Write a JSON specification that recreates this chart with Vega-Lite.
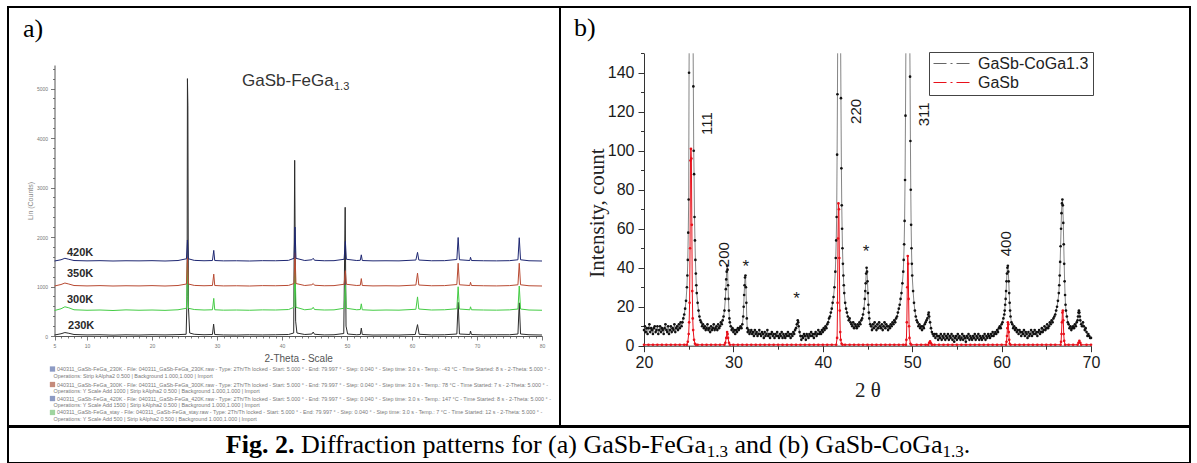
{
"$schema": "https://vega.github.io/schema/vega-lite/v6.json",
"background": "white",
"padding": {"left": 7, "top": 6, "right": 0, "bottom": 0},
"config": {"view": {"stroke": "#000000", "strokeWidth": 2}, "font": "Liberation Sans"},
"spacing": -1,
"resolve": {"scale": {"x": "independent", "y": "independent", "color": "independent", "fill": "independent"}},
"datasets": {
"a": [
{"k":"230K","t":5,"c":20},{"k":"230K","t":6,"c":45},{"k":"230K","t":6.6,"c":70},{"k":"230K","t":7.2,"c":55},{"k":"230K","t":8,"c":30},{"k":"230K","t":10,"c":22},{"k":"230K","t":12,"c":25},{"k":"230K","t":14,"c":18},{"k":"230K","t":16,"c":24},{"k":"230K","t":18,"c":20},{"k":"230K","t":20,"c":26},{"k":"230K","t":22,"c":22},{"k":"230K","t":24,"c":28},{"k":"230K","t":25.25,"c":35},{"k":"230K","t":25.4,"c":800},{"k":"230K","t":25.45,"c":5200},{"k":"230K","t":25.52,"c":4650},{"k":"230K","t":25.6,"c":600},{"k":"230K","t":25.8,"c":60},{"k":"230K","t":26.5,"c":35},{"k":"230K","t":28,"c":25},{"k":"230K","t":29.3,"c":30},{"k":"230K","t":29.48,"c":240},{"k":"230K","t":29.65,"c":30},{"k":"230K","t":31,"c":22},{"k":"230K","t":33,"c":20},{"k":"230K","t":35,"c":25},{"k":"230K","t":37,"c":22},{"k":"230K","t":39,"c":25},{"k":"230K","t":41,"c":30},{"k":"230K","t":41.8,"c":60},{"k":"230K","t":41.95,"c":3550},{"k":"230K","t":42.1,"c":300},{"k":"230K","t":42.3,"c":60},{"k":"230K","t":43.5,"c":30},{"k":"230K","t":44.6,"c":40},{"k":"230K","t":44.8,"c":80},{"k":"230K","t":45,"c":35},{"k":"230K","t":46.5,"c":22},{"k":"230K","t":48,"c":25},{"k":"230K","t":49.5,"c":50},{"k":"230K","t":49.72,"c":2600},{"k":"230K","t":49.85,"c":200},{"k":"230K","t":50.1,"c":40},{"k":"230K","t":51.5,"c":25},{"k":"230K","t":52.05,"c":30},{"k":"230K","t":52.2,"c":160},{"k":"230K","t":52.35,"c":30},{"k":"230K","t":54,"c":20},{"k":"230K","t":56,"c":22},{"k":"230K","t":58,"c":20},{"k":"230K","t":60.5,"c":30},{"k":"230K","t":60.85,"c":230},{"k":"230K","t":61.1,"c":35},{"k":"230K","t":63,"c":22},{"k":"230K","t":65,"c":25},{"k":"230K","t":66.9,"c":40},{"k":"230K","t":67.1,"c":680},{"k":"230K","t":67.3,"c":40},{"k":"230K","t":68.9,"c":30},{"k":"230K","t":69,"c":100},{"k":"230K","t":69.15,"c":30},{"k":"230K","t":71,"c":22},{"k":"230K","t":73,"c":25},{"k":"230K","t":75,"c":25},{"k":"230K","t":76.3,"c":40},{"k":"230K","t":76.5,"c":670},{"k":"230K","t":76.7,"c":40},{"k":"230K","t":78,"c":25},{"k":"230K","t":80,"c":20},
{"k":"300K","t":5,"c":515},{"k":"300K","t":6,"c":550},{"k":"300K","t":6.6,"c":590},{"k":"300K","t":7.2,"c":570},{"k":"300K","t":8,"c":530},{"k":"300K","t":10,"c":520},{"k":"300K","t":12,"c":525},{"k":"300K","t":14,"c":515},{"k":"300K","t":16,"c":528},{"k":"300K","t":18,"c":520},{"k":"300K","t":20,"c":525},{"k":"300K","t":22,"c":518},{"k":"300K","t":24,"c":530},{"k":"300K","t":25.3,"c":560},{"k":"300K","t":25.45,"c":1480},{"k":"300K","t":25.6,"c":560},{"k":"300K","t":26.5,"c":535},{"k":"300K","t":28,"c":525},{"k":"300K","t":29.3,"c":530},{"k":"300K","t":29.5,"c":760},{"k":"300K","t":29.65,"c":530},{"k":"300K","t":31,"c":522},{"k":"300K","t":33,"c":525},{"k":"300K","t":35,"c":520},{"k":"300K","t":37,"c":528},{"k":"300K","t":39,"c":525},{"k":"300K","t":41,"c":535},{"k":"300K","t":41.85,"c":580},{"k":"300K","t":42,"c":1420},{"k":"300K","t":42.15,"c":580},{"k":"300K","t":43.5,"c":530},{"k":"300K","t":44.6,"c":545},{"k":"300K","t":44.8,"c":580},{"k":"300K","t":45,"c":535},{"k":"300K","t":46.5,"c":525},{"k":"300K","t":48,"c":528},{"k":"300K","t":49.55,"c":560},{"k":"300K","t":49.75,"c":1030},{"k":"300K","t":49.9,"c":560},{"k":"300K","t":51.5,"c":530},{"k":"300K","t":52.05,"c":535},{"k":"300K","t":52.2,"c":650},{"k":"300K","t":52.35,"c":530},{"k":"300K","t":54,"c":520},{"k":"300K","t":56,"c":525},{"k":"300K","t":58,"c":522},{"k":"300K","t":60.6,"c":540},{"k":"300K","t":60.85,"c":790},{"k":"300K","t":61.05,"c":545},{"k":"300K","t":63,"c":525},{"k":"300K","t":65,"c":530},{"k":"300K","t":66.9,"c":550},{"k":"300K","t":67.1,"c":995},{"k":"300K","t":67.3,"c":545},{"k":"300K","t":68.9,"c":530},{"k":"300K","t":69,"c":590},{"k":"300K","t":69.15,"c":530},{"k":"300K","t":71,"c":525},{"k":"300K","t":73,"c":522},{"k":"300K","t":75,"c":528},{"k":"300K","t":76.3,"c":545},{"k":"300K","t":76.5,"c":1010},{"k":"300K","t":76.7,"c":545},{"k":"300K","t":78,"c":525},{"k":"300K","t":80,"c":520},
{"k":"350K","t":5,"c":1010},{"k":"350K","t":6,"c":1040},{"k":"350K","t":6.6,"c":1070},{"k":"350K","t":7.2,"c":1050},{"k":"350K","t":8,"c":1020},{"k":"350K","t":10,"c":1012},{"k":"350K","t":12,"c":1018},{"k":"350K","t":14,"c":1010},{"k":"350K","t":16,"c":1015},{"k":"350K","t":18,"c":1012},{"k":"350K","t":20,"c":1018},{"k":"350K","t":22,"c":1010},{"k":"350K","t":24,"c":1020},{"k":"350K","t":25.3,"c":1050},{"k":"350K","t":25.45,"c":1580},{"k":"350K","t":25.6,"c":1050},{"k":"350K","t":26.5,"c":1022},{"k":"350K","t":28,"c":1015},{"k":"350K","t":29.3,"c":1020},{"k":"350K","t":29.5,"c":1250},{"k":"350K","t":29.65,"c":1020},{"k":"350K","t":31,"c":1012},{"k":"350K","t":33,"c":1015},{"k":"350K","t":35,"c":1010},{"k":"350K","t":37,"c":1018},{"k":"350K","t":39,"c":1015},{"k":"350K","t":41,"c":1022},{"k":"350K","t":41.85,"c":1060},{"k":"350K","t":42,"c":1680},{"k":"350K","t":42.15,"c":1060},{"k":"350K","t":43.5,"c":1020},{"k":"350K","t":44.6,"c":1035},{"k":"350K","t":44.8,"c":1060},{"k":"350K","t":45,"c":1025},{"k":"350K","t":46.5,"c":1015},{"k":"350K","t":48,"c":1018},{"k":"350K","t":49.55,"c":1045},{"k":"350K","t":49.75,"c":1320},{"k":"350K","t":49.9,"c":1045},{"k":"350K","t":51.5,"c":1020},{"k":"350K","t":52.05,"c":1025},{"k":"350K","t":52.2,"c":1160},{"k":"350K","t":52.35,"c":1020},{"k":"350K","t":54,"c":1012},{"k":"350K","t":56,"c":1015},{"k":"350K","t":58,"c":1012},{"k":"350K","t":60.6,"c":1030},{"k":"350K","t":60.85,"c":1270},{"k":"350K","t":61.05,"c":1030},{"k":"350K","t":63,"c":1015},{"k":"350K","t":65,"c":1018},{"k":"350K","t":66.9,"c":1040},{"k":"350K","t":67.1,"c":1470},{"k":"350K","t":67.3,"c":1035},{"k":"350K","t":68.9,"c":1020},{"k":"350K","t":69,"c":1085},{"k":"350K","t":69.15,"c":1020},{"k":"350K","t":71,"c":1015},{"k":"350K","t":73,"c":1012},{"k":"350K","t":75,"c":1018},{"k":"350K","t":76.3,"c":1035},{"k":"350K","t":76.5,"c":1470},{"k":"350K","t":76.7,"c":1035},{"k":"350K","t":78,"c":1015},{"k":"350K","t":80,"c":1010},
{"k":"420K","t":5,"c":1515},{"k":"420K","t":6,"c":1540},{"k":"420K","t":6.6,"c":1570},{"k":"420K","t":7.2,"c":1550},{"k":"420K","t":8,"c":1525},{"k":"420K","t":10,"c":1518},{"k":"420K","t":12,"c":1522},{"k":"420K","t":14,"c":1515},{"k":"420K","t":16,"c":1520},{"k":"420K","t":18,"c":1518},{"k":"420K","t":20,"c":1522},{"k":"420K","t":22,"c":1515},{"k":"420K","t":24,"c":1525},{"k":"420K","t":25.3,"c":1560},{"k":"420K","t":25.45,"c":1940},{"k":"420K","t":25.6,"c":1560},{"k":"420K","t":26.5,"c":1528},{"k":"420K","t":28,"c":1520},{"k":"420K","t":29.3,"c":1525},{"k":"420K","t":29.5,"c":1730},{"k":"420K","t":29.65,"c":1525},{"k":"420K","t":31,"c":1518},{"k":"420K","t":33,"c":1520},{"k":"420K","t":35,"c":1515},{"k":"420K","t":37,"c":1522},{"k":"420K","t":39,"c":1520},{"k":"420K","t":41,"c":1528},{"k":"420K","t":41.85,"c":1570},{"k":"420K","t":42,"c":2200},{"k":"420K","t":42.15,"c":1570},{"k":"420K","t":43.5,"c":1525},{"k":"420K","t":44.6,"c":1540},{"k":"420K","t":44.8,"c":1570},{"k":"420K","t":45,"c":1530},{"k":"420K","t":46.5,"c":1520},{"k":"420K","t":48,"c":1522},{"k":"420K","t":49.55,"c":1550},{"k":"420K","t":49.75,"c":1910},{"k":"420K","t":49.9,"c":1550},{"k":"420K","t":51.5,"c":1525},{"k":"420K","t":52.05,"c":1530},{"k":"420K","t":52.2,"c":1640},{"k":"420K","t":52.35,"c":1525},{"k":"420K","t":54,"c":1518},{"k":"420K","t":56,"c":1520},{"k":"420K","t":58,"c":1518},{"k":"420K","t":60.6,"c":1535},{"k":"420K","t":60.85,"c":1690},{"k":"420K","t":61.05,"c":1535},{"k":"420K","t":63,"c":1520},{"k":"420K","t":65,"c":1522},{"k":"420K","t":66.9,"c":1545},{"k":"420K","t":67.1,"c":1990},{"k":"420K","t":67.3,"c":1540},{"k":"420K","t":68.9,"c":1525},{"k":"420K","t":69,"c":1590},{"k":"420K","t":69.15,"c":1525},{"k":"420K","t":71,"c":1520},{"k":"420K","t":73,"c":1518},{"k":"420K","t":75,"c":1522},{"k":"420K","t":76.3,"c":1540},{"k":"420K","t":76.5,"c":1985},{"k":"420K","t":76.7,"c":1540},{"k":"420K","t":78,"c":1520},{"k":"420K","t":80,"c":1515}
],
"bk": [{"t":20,"c":8},{"t":20.1,"c":10},{"t":20.2,"c":7},{"t":20.3,"c":9},{"t":20.4,"c":6},{"t":20.5,"c":9},{"t":20.6,"c":11},{"t":20.7,"c":7},{"t":20.8,"c":9},{"t":20.9,"c":8},{"t":21,"c":6},{"t":21.1,"c":9},{"t":21.2,"c":10},{"t":21.3,"c":7},{"t":21.4,"c":8},{"t":21.5,"c":10},{"t":21.6,"c":6},{"t":21.7,"c":8},{"t":21.8,"c":10},{"t":21.9,"c":7},{"t":22,"c":9},{"t":22.1,"c":8},{"t":22.2,"c":6},{"t":22.3,"c":9},{"t":22.4,"c":11},{"t":22.5,"c":8},{"t":22.6,"c":7},{"t":22.7,"c":10},{"t":22.8,"c":6},{"t":22.9,"c":8},{"t":23,"c":10},{"t":23.1,"c":7},{"t":23.2,"c":9},{"t":23.3,"c":8},{"t":23.4,"c":11},{"t":23.5,"c":7},{"t":23.6,"c":9},{"t":23.7,"c":10},{"t":23.8,"c":8},{"t":23.9,"c":11},{"t":24,"c":9},{"t":24.1,"c":12},{"t":24.2,"c":10},{"t":24.3,"c":12},{"t":24.4,"c":14},{"t":24.5,"c":16},{"t":24.6,"c":19},{"t":24.7,"c":23},{"t":24.8,"c":30},{"t":24.85,"c":36},{"t":24.9,"c":44},{"t":24.95,"c":58},{"t":25,"c":75},{"t":25.04,"c":140},{"t":25.05,"c":150},{"t":25.3,"c":null},{"t":25.5,"c":150},{"t":25.52,"c":133},{"t":25.56,"c":100},{"t":25.6,"c":88},{"t":25.65,"c":66},{"t":25.7,"c":54},{"t":25.75,"c":44},{"t":25.8,"c":37},{"t":25.85,"c":31},{"t":25.9,"c":27},{"t":26,"c":22},{"t":26.1,"c":18},{"t":26.2,"c":15},{"t":26.3,"c":13},{"t":26.4,"c":12},{"t":26.5,"c":10},{"t":26.6,"c":11},{"t":26.7,"c":9},{"t":26.8,"c":10},{"t":26.9,"c":8},{"t":27,"c":9},{"t":27.1,"c":11},{"t":27.2,"c":8},{"t":27.3,"c":9},{"t":27.4,"c":7},{"t":27.5,"c":10},{"t":27.6,"c":8},{"t":27.7,"c":9},{"t":27.8,"c":11},{"t":27.9,"c":8},{"t":28,"c":9},{"t":28.1,"c":10},{"t":28.2,"c":8},{"t":28.3,"c":11},{"t":28.4,"c":9},{"t":28.5,"c":10},{"t":28.6,"c":12},{"t":28.7,"c":11},{"t":28.8,"c":13},{"t":28.9,"c":15},{"t":29,"c":18},{"t":29.1,"c":24},{"t":29.15,"c":29},{"t":29.2,"c":34},{"t":29.25,"c":38},{"t":29.3,"c":41},{"t":29.35,"c":39},{"t":29.4,"c":31},{"t":29.45,"c":24},{"t":29.5,"c":18},{"t":29.55,"c":14},{"t":29.6,"c":12},{"t":29.7,"c":10},{"t":29.8,"c":8},{"t":29.9,"c":9},{"t":30,"c":7},{"t":30.1,"c":8},{"t":30.2,"c":6},{"t":30.3,"c":8},{"t":30.4,"c":7},{"t":30.5,"c":9},{"t":30.6,"c":8},{"t":30.7,"c":9},{"t":30.8,"c":10},{"t":30.9,"c":9},{"t":31,"c":11},{"t":31.1,"c":15},{"t":31.15,"c":20},{"t":31.2,"c":26},{"t":31.25,"c":31},{"t":31.3,"c":35},{"t":31.35,"c":36},{"t":31.4,"c":30},{"t":31.45,"c":22},{"t":31.5,"c":14},{"t":31.55,"c":9},{"t":31.6,"c":7},{"t":31.7,"c":8},{"t":31.8,"c":6},{"t":31.9,"c":7},{"t":32,"c":8},{"t":32.1,"c":6},{"t":32.2,"c":7},{"t":32.3,"c":5},{"t":32.4,"c":8},{"t":32.5,"c":6},{"t":32.6,"c":7},{"t":32.7,"c":5},{"t":32.8,"c":6},{"t":32.9,"c":8},{"t":33,"c":6},{"t":33.1,"c":5},{"t":33.2,"c":7},{"t":33.3,"c":6},{"t":33.4,"c":4},{"t":33.5,"c":7},{"t":33.6,"c":5},{"t":33.7,"c":6},{"t":33.8,"c":8},{"t":33.9,"c":5},{"t":34,"c":6},{"t":34.1,"c":4},{"t":34.2,"c":6},{"t":34.3,"c":7},{"t":34.4,"c":5},{"t":34.5,"c":6},{"t":34.6,"c":4},{"t":34.7,"c":6},{"t":34.8,"c":5},{"t":34.9,"c":7},{"t":35,"c":5},{"t":35.1,"c":4},{"t":35.2,"c":6},{"t":35.3,"c":5},{"t":35.4,"c":7},{"t":35.5,"c":4},{"t":35.6,"c":6},{"t":35.7,"c":5},{"t":35.8,"c":4},{"t":35.9,"c":6},{"t":36,"c":5},{"t":36.1,"c":7},{"t":36.2,"c":5},{"t":36.3,"c":6},{"t":36.4,"c":4},{"t":36.5,"c":6},{"t":36.6,"c":5},{"t":36.7,"c":7},{"t":36.8,"c":6},{"t":36.9,"c":8},{"t":37,"c":9},{"t":37.1,"c":11},{"t":37.2,"c":13},{"t":37.25,"c":12},{"t":37.3,"c":10},{"t":37.4,"c":7},{"t":37.5,"c":5},{"t":37.6,"c":3},{"t":37.7,"c":5},{"t":37.8,"c":4},{"t":37.9,"c":6},{"t":38,"c":5},{"t":38.1,"c":3},{"t":38.2,"c":6},{"t":38.3,"c":5},{"t":38.4,"c":4},{"t":38.5,"c":6},{"t":38.6,"c":5},{"t":38.7,"c":7},{"t":38.8,"c":5},{"t":38.9,"c":6},{"t":39,"c":4},{"t":39.1,"c":6},{"t":39.2,"c":7},{"t":39.3,"c":5},{"t":39.4,"c":6},{"t":39.5,"c":8},{"t":39.6,"c":6},{"t":39.7,"c":7},{"t":39.8,"c":6},{"t":39.9,"c":8},{"t":40,"c":7},{"t":40.1,"c":9},{"t":40.2,"c":8},{"t":40.3,"c":10},{"t":40.4,"c":9},{"t":40.5,"c":11},{"t":40.6,"c":12},{"t":40.7,"c":14},{"t":40.8,"c":15},{"t":40.9,"c":17},{"t":41,"c":19},{"t":41.1,"c":22},{"t":41.2,"c":25},{"t":41.3,"c":30},{"t":41.4,"c":38},{"t":41.45,"c":45},{"t":41.5,"c":54},{"t":41.55,"c":66},{"t":41.6,"c":98},{"t":41.64,"c":129},{"t":41.66,"c":150},{"t":41.85,"c":null},{"t":42,"c":150},{"t":42.03,"c":127},{"t":42.08,"c":91},{"t":42.12,"c":72},{"t":42.16,"c":60},{"t":42.2,"c":50},{"t":42.25,"c":42},{"t":42.3,"c":36},{"t":42.35,"c":31},{"t":42.4,"c":27},{"t":42.5,"c":22},{"t":42.6,"c":19},{"t":42.7,"c":17},{"t":42.8,"c":15},{"t":42.9,"c":13},{"t":43,"c":14},{"t":43.1,"c":12},{"t":43.2,"c":11},{"t":43.3,"c":10},{"t":43.4,"c":12},{"t":43.5,"c":9},{"t":43.6,"c":11},{"t":43.7,"c":10},{"t":43.8,"c":9},{"t":43.9,"c":11},{"t":44,"c":10},{"t":44.1,"c":12},{"t":44.2,"c":11},{"t":44.3,"c":13},{"t":44.4,"c":14},{"t":44.5,"c":16},{"t":44.6,"c":19},{"t":44.7,"c":24},{"t":44.75,"c":28},{"t":44.8,"c":32},{"t":44.85,"c":37},{"t":44.9,"c":40},{"t":44.95,"c":38},{"t":45,"c":33},{"t":45.05,"c":27},{"t":45.1,"c":21},{"t":45.15,"c":17},{"t":45.2,"c":14},{"t":45.3,"c":11},{"t":45.4,"c":10},{"t":45.5,"c":8},{"t":45.6,"c":11},{"t":45.7,"c":9},{"t":45.8,"c":12},{"t":45.9,"c":10},{"t":46,"c":8},{"t":46.1,"c":11},{"t":46.2,"c":9},{"t":46.3,"c":12},{"t":46.4,"c":10},{"t":46.5,"c":9},{"t":46.6,"c":11},{"t":46.7,"c":8},{"t":46.8,"c":10},{"t":46.9,"c":12},{"t":47,"c":9},{"t":47.1,"c":11},{"t":47.2,"c":10},{"t":47.3,"c":8},{"t":47.4,"c":10},{"t":47.5,"c":9},{"t":47.6,"c":11},{"t":47.7,"c":10},{"t":47.8,"c":12},{"t":47.9,"c":11},{"t":48,"c":13},{"t":48.1,"c":12},{"t":48.2,"c":14},{"t":48.3,"c":15},{"t":48.4,"c":17},{"t":48.5,"c":19},{"t":48.6,"c":21},{"t":48.7,"c":24},{"t":48.8,"c":27},{"t":48.9,"c":32},{"t":49,"c":38},{"t":49.05,"c":44},{"t":49.1,"c":52},{"t":49.15,"c":64},{"t":49.2,"c":85},{"t":49.25,"c":118},{"t":49.29,"c":150},{"t":49.5,"c":null},{"t":49.74,"c":150},{"t":49.76,"c":138},{"t":49.8,"c":105},{"t":49.84,"c":80},{"t":49.88,"c":62},{"t":49.92,"c":50},{"t":49.96,"c":42},{"t":50,"c":36},{"t":50.1,"c":28},{"t":50.2,"c":22},{"t":50.3,"c":18},{"t":50.4,"c":15},{"t":50.5,"c":13},{"t":50.6,"c":12},{"t":50.7,"c":10},{"t":50.8,"c":11},{"t":50.9,"c":9},{"t":51,"c":10},{"t":51.1,"c":8},{"t":51.2,"c":10},{"t":51.3,"c":9},{"t":51.4,"c":11},{"t":51.5,"c":12},{"t":51.6,"c":13},{"t":51.7,"c":14},{"t":51.8,"c":16},{"t":51.85,"c":17},{"t":51.9,"c":15},{"t":52,"c":12},{"t":52.1,"c":9},{"t":52.2,"c":7},{"t":52.3,"c":6},{"t":52.4,"c":5},{"t":52.5,"c":6},{"t":52.6,"c":4},{"t":52.7,"c":6},{"t":52.8,"c":5},{"t":52.9,"c":3},{"t":53,"c":5},{"t":53.1,"c":4},{"t":53.2,"c":6},{"t":53.3,"c":3},{"t":53.4,"c":5},{"t":53.5,"c":4},{"t":53.6,"c":6},{"t":53.7,"c":3},{"t":53.8,"c":5},{"t":53.9,"c":4},{"t":54,"c":6},{"t":54.1,"c":3},{"t":54.2,"c":5},{"t":54.3,"c":4},{"t":54.4,"c":6},{"t":54.5,"c":3},{"t":54.6,"c":5},{"t":54.7,"c":2},{"t":54.8,"c":4},{"t":54.9,"c":5},{"t":55,"c":3},{"t":55.1,"c":6},{"t":55.2,"c":4},{"t":55.3,"c":5},{"t":55.4,"c":3},{"t":55.5,"c":4},{"t":55.6,"c":6},{"t":55.7,"c":3},{"t":55.8,"c":5},{"t":55.9,"c":4},{"t":56,"c":2},{"t":56.1,"c":5},{"t":56.2,"c":4},{"t":56.3,"c":6},{"t":56.4,"c":3},{"t":56.5,"c":5},{"t":56.6,"c":4},{"t":56.7,"c":3},{"t":56.8,"c":5},{"t":56.9,"c":4},{"t":57,"c":6},{"t":57.1,"c":3},{"t":57.2,"c":5},{"t":57.3,"c":4},{"t":57.4,"c":6},{"t":57.5,"c":3},{"t":57.6,"c":5},{"t":57.7,"c":4},{"t":57.8,"c":3},{"t":57.9,"c":5},{"t":58,"c":4},{"t":58.1,"c":6},{"t":58.2,"c":3},{"t":58.3,"c":5},{"t":58.4,"c":4},{"t":58.5,"c":6},{"t":58.6,"c":5},{"t":58.7,"c":4},{"t":58.8,"c":6},{"t":58.9,"c":5},{"t":59,"c":7},{"t":59.1,"c":5},{"t":59.2,"c":6},{"t":59.3,"c":7},{"t":59.4,"c":6},{"t":59.5,"c":8},{"t":59.6,"c":7},{"t":59.7,"c":9},{"t":59.8,"c":10},{"t":59.9,"c":9},{"t":60,"c":11},{"t":60.1,"c":12},{"t":60.2,"c":14},{"t":60.3,"c":16},{"t":60.35,"c":18},{"t":60.4,"c":21},{"t":60.45,"c":24},{"t":60.5,"c":28},{"t":60.55,"c":33},{"t":60.6,"c":37},{"t":60.65,"c":40},{"t":60.7,"c":41},{"t":60.75,"c":38},{"t":60.8,"c":33},{"t":60.85,"c":27},{"t":60.9,"c":22},{"t":60.95,"c":18},{"t":61,"c":15},{"t":61.1,"c":12},{"t":61.2,"c":11},{"t":61.3,"c":9},{"t":61.4,"c":10},{"t":61.5,"c":8},{"t":61.6,"c":9},{"t":61.7,"c":7},{"t":61.8,"c":8},{"t":61.9,"c":6},{"t":62,"c":8},{"t":62.1,"c":7},{"t":62.2,"c":5},{"t":62.3,"c":7},{"t":62.4,"c":6},{"t":62.5,"c":8},{"t":62.6,"c":5},{"t":62.7,"c":7},{"t":62.8,"c":6},{"t":62.9,"c":4},{"t":63,"c":7},{"t":63.1,"c":5},{"t":63.2,"c":6},{"t":63.3,"c":8},{"t":63.4,"c":5},{"t":63.5,"c":7},{"t":63.6,"c":6},{"t":63.7,"c":8},{"t":63.8,"c":6},{"t":63.9,"c":7},{"t":64,"c":5},{"t":64.1,"c":7},{"t":64.2,"c":8},{"t":64.3,"c":6},{"t":64.4,"c":7},{"t":64.5,"c":9},{"t":64.6,"c":7},{"t":64.7,"c":8},{"t":64.8,"c":10},{"t":64.9,"c":8},{"t":65,"c":9},{"t":65.1,"c":11},{"t":65.2,"c":9},{"t":65.3,"c":10},{"t":65.4,"c":12},{"t":65.5,"c":11},{"t":65.6,"c":13},{"t":65.7,"c":12},{"t":65.8,"c":14},{"t":65.9,"c":15},{"t":66,"c":16},{"t":66.1,"c":18},{"t":66.2,"c":20},{"t":66.3,"c":23},{"t":66.4,"c":27},{"t":66.45,"c":31},{"t":66.5,"c":36},{"t":66.55,"c":43},{"t":66.6,"c":51},{"t":66.65,"c":60},{"t":66.7,"c":68},{"t":66.75,"c":73},{"t":66.8,"c":75},{"t":66.85,"c":72},{"t":66.9,"c":63},{"t":66.95,"c":52},{"t":67,"c":42},{"t":67.05,"c":33},{"t":67.1,"c":26},{"t":67.15,"c":21},{"t":67.2,"c":18},{"t":67.3,"c":15},{"t":67.4,"c":12},{"t":67.5,"c":11},{"t":67.6,"c":9},{"t":67.7,"c":10},{"t":67.8,"c":8},{"t":67.9,"c":9},{"t":68,"c":10},{"t":68.1,"c":9},{"t":68.2,"c":11},{"t":68.3,"c":10},{"t":68.4,"c":12},{"t":68.5,"c":13},{"t":68.55,"c":15},{"t":68.6,"c":17},{"t":68.65,"c":18},{"t":68.7,"c":17},{"t":68.75,"c":15},{"t":68.8,"c":13},{"t":68.9,"c":11},{"t":69,"c":10},{"t":69.1,"c":12},{"t":69.2,"c":10},{"t":69.3,"c":8},{"t":69.4,"c":9},{"t":69.5,"c":7},{"t":69.6,"c":5},{"t":69.7,"c":6},{"t":69.8,"c":5},{"t":69.9,"c":4},{"t":70,"c":4}],
"rd": [{"t":20,"c":0.5},{"t":20.5,"c":0.5},{"t":21,"c":0.5},{"t":21.5,"c":0.5},{"t":22,"c":0.5},{"t":22.5,"c":0.5},{"t":23,"c":0.5},{"t":23.5,"c":0.5},{"t":24,"c":0.5},{"t":24.5,"c":0.5},{"t":24.8,"c":0.5},{"t":24.9,"c":2},{"t":25,"c":6},{"t":25.05,"c":12},{"t":25.1,"c":22},{"t":25.15,"c":50},{"t":25.2,"c":95},{"t":25.25,"c":101},{"t":25.3,"c":96},{"t":25.35,"c":62},{"t":25.4,"c":28},{"t":25.45,"c":14},{"t":25.5,"c":8},{"t":25.6,"c":3},{"t":25.7,"c":1},{"t":25.8,"c":0.5},{"t":26,"c":0.5},{"t":26.5,"c":0.5},{"t":27,"c":0.5},{"t":27.5,"c":0.5},{"t":28,"c":0.5},{"t":28.5,"c":0.5},{"t":29,"c":0.5},{"t":29.1,"c":1.5},{"t":29.2,"c":4},{"t":29.3,"c":7},{"t":29.35,"c":6},{"t":29.4,"c":4},{"t":29.5,"c":1.5},{"t":29.6,"c":0.5},{"t":30,"c":0.5},{"t":30.5,"c":0.5},{"t":31,"c":0.5},{"t":31.5,"c":0.5},{"t":32,"c":0.5},{"t":32.5,"c":0.5},{"t":33,"c":0.5},{"t":33.5,"c":0.5},{"t":34,"c":0.5},{"t":34.5,"c":0.5},{"t":35,"c":0.5},{"t":35.5,"c":0.5},{"t":36,"c":0.5},{"t":36.5,"c":0.5},{"t":37,"c":0.5},{"t":37.5,"c":0.5},{"t":38,"c":0.5},{"t":38.5,"c":0.5},{"t":39,"c":0.5},{"t":39.5,"c":0.5},{"t":40,"c":0.5},{"t":40.5,"c":0.5},{"t":41,"c":0.5},{"t":41.5,"c":0.5},{"t":41.6,"c":4},{"t":41.65,"c":22},{"t":41.7,"c":55},{"t":41.75,"c":73},{"t":41.8,"c":70},{"t":41.85,"c":45},{"t":41.9,"c":18},{"t":41.95,"c":7},{"t":42,"c":3},{"t":42.1,"c":1},{"t":42.2,"c":0.5},{"t":42.5,"c":0.5},{"t":43,"c":0.5},{"t":43.5,"c":0.5},{"t":44,"c":0.5},{"t":44.5,"c":0.5},{"t":45,"c":0.5},{"t":45.5,"c":0.5},{"t":46,"c":0.5},{"t":46.5,"c":0.5},{"t":47,"c":0.5},{"t":47.5,"c":0.5},{"t":48,"c":0.5},{"t":48.5,"c":0.5},{"t":49,"c":0.5},{"t":49.3,"c":0.5},{"t":49.35,"c":3},{"t":49.4,"c":12},{"t":49.45,"c":30},{"t":49.5,"c":46},{"t":49.55,"c":42},{"t":49.6,"c":24},{"t":49.65,"c":10},{"t":49.7,"c":4},{"t":49.8,"c":1},{"t":49.9,"c":0.5},{"t":50.5,"c":0.5},{"t":51,"c":0.5},{"t":51.5,"c":0.5},{"t":51.8,"c":0.5},{"t":51.9,"c":1.5},{"t":52,"c":2.2},{"t":52.1,"c":1.2},{"t":52.2,"c":0.5},{"t":52.5,"c":0.5},{"t":53,"c":0.5},{"t":53.5,"c":0.5},{"t":54,"c":0.5},{"t":54.5,"c":0.5},{"t":55,"c":0.5},{"t":55.5,"c":0.5},{"t":56,"c":0.5},{"t":56.5,"c":0.5},{"t":57,"c":0.5},{"t":57.5,"c":0.5},{"t":58,"c":0.5},{"t":58.5,"c":0.5},{"t":59,"c":0.5},{"t":59.5,"c":0.5},{"t":60,"c":0.5},{"t":60.5,"c":0.5},{"t":60.55,"c":2},{"t":60.6,"c":5},{"t":60.65,"c":9},{"t":60.7,"c":12},{"t":60.75,"c":11},{"t":60.8,"c":7},{"t":60.85,"c":3},{"t":60.9,"c":1},{"t":61,"c":0.5},{"t":61.5,"c":0.5},{"t":62,"c":0.5},{"t":62.5,"c":0.5},{"t":63,"c":0.5},{"t":63.5,"c":0.5},{"t":64,"c":0.5},{"t":64.5,"c":0.5},{"t":65,"c":0.5},{"t":65.5,"c":0.5},{"t":66,"c":0.5},{"t":66.6,"c":0.5},{"t":66.65,"c":2},{"t":66.7,"c":6},{"t":66.75,"c":12},{"t":66.8,"c":17},{"t":66.85,"c":18},{"t":66.9,"c":13},{"t":66.95,"c":6},{"t":67,"c":2.5},{"t":67.1,"c":0.5},{"t":67.5,"c":0.5},{"t":68,"c":0.5},{"t":68.5,"c":0.5},{"t":68.6,"c":1.5},{"t":68.7,"c":2.5},{"t":68.8,"c":1.5},{"t":68.9,"c":0.5},{"t":69.5,"c":0.5},{"t":70,"c":0.5}]
},
"vconcat": [
{
"hconcat": [
{
"width": 552, "height": 419,
"encoding": {
"x": {"field": "t", "type": "quantitative", "scale": {"domain": [5, 80], "range": [46.5, 534], "nice": false, "zero": false},
 "axis": {"orient": "bottom", "offset": -90, "grid": false, "values": [5,6,7,8,9,10,11,12,13,14,15,16,17,18,19,20,21,22,23,24,25,26,27,28,29,30,31,32,33,34,35,36,37,38,39,40,41,42,43,44,45,46,47,48,49,50,51,52,53,54,55,56,57,58,59,60,61,62,63,64,65,66,67,68,69,70,71,72,73,74,75,76,77,78,79,80],
 "labelExpr": "datum.value == 5 || datum.value % 10 == 0 ? datum.label : ''",
 "tickSize": {"condition": {"test": "datum.value == 5 || datum.value % 10 == 0", "value": 4}, "value": 2},
 "labelFontSize": 5, "labelColor": "#777777", "labelPadding": 3, "labelFlush": false, "labelOverlap": false,
 "domainColor": "#555555", "tickColor": "#555555", "domainWidth": 1, "tickWidth": 0.8,
 "title": "2-Theta - Scale", "titleFontSize": 10, "titleFontWeight": "normal", "titleColor": "#555555", "titlePadding": 5}},
"y": {"field": "c", "type": "quantitative", "scale": {"domain": [0, 5475], "range": [329, 58], "nice": false, "zero": false},
 "axis": {"orient": "left", "offset": -46.5, "grid": false, "values": [0,200,400,600,800,1000,1200,1400,1600,1800,2000,2200,2400,2600,2800,3000,3200,3400,3600,3800,4000,4200,4400,4600,4800,5000,5200,5400],
 "labelExpr": "datum.value % 1000 == 0 ? datum.label : ''", "format": "d",
 "tickSize": {"condition": {"test": "datum.value % 1000 == 0", "value": 4}, "value": 2},
 "labelFontSize": 5, "labelColor": "#777777", "labelPadding": 3, "labelFlush": false, "labelOverlap": false,
 "domainColor": "#555555", "tickColor": "#555555", "domainWidth": 1, "tickWidth": 0.8,
 "title": "Lin (Counts)", "titleFontSize": 7, "titleFontWeight": "normal", "titleColor": "#888888", "titlePadding": 3}}
},
"layer": [
{"data": {"name": "a"}, "mark": {"type": "line", "strokeWidth": 1},
 "encoding": {"color": {"field": "k", "type": "nominal", "scale": {"domain": ["230K", "300K", "350K", "420K"], "range": ["#2b2b2b", "#45cc45", "#b84a32", "#1e2772"]}, "legend": null}}},
{"data": {"values": [{"t": 6.92, "c": 1616, "l": "420K"}, {"t": 6.92, "c": 1198, "l": "350K"}, {"t": 6.92, "c": 660, "l": "300K"}, {"t": 7.08, "c": 135, "l": "230K"}]},
 "mark": {"type": "text", "align": "left", "baseline": "alphabetic", "fontSize": 11, "fontWeight": "bold", "color": "#2a2a2a"},
 "encoding": {"text": {"field": "l"}}},
{"data": {"values": [{"t": 33.85, "c": 5050, "l": "GaSb-FeGa"}]},
 "mark": {"type": "text", "align": "left", "baseline": "alphabetic", "fontSize": 17, "color": "#333333"},
 "encoding": {"text": {"field": "l"}}},
{"data": {"values": [{"t": 48.0, "c": 4970, "l": "1.3"}]},
 "mark": {"type": "text", "align": "left", "baseline": "alphabetic", "fontSize": 11, "color": "#333333"},
 "encoding": {"text": {"field": "l"}}},
{"data": {"values": [{"t": 0.15, "c": 6040, "l": "a)"}]},
 "mark": {"type": "text", "align": "left", "baseline": "alphabetic", "font": "Liberation Serif", "fontSize": 26, "color": "#000000"},
 "encoding": {"text": {"field": "l"}}},
{"data": {"values": [
 {"t": 5.385, "c": -667, "l": "040311_GaSb-FeGa_230K - File: 040311_GaSb-FeGa_230K.raw - Type: 2Th/Th locked - Start: 5.000 ° - End: 79.997 ° - Step: 0.040 ° - Step time: 3.0 s - Temp.: -43 °C - Time Started: 8 s - 2-Theta: 5.000 ° -"},
 {"t": 4.85, "c": -818, "l": "Operations: Strip kAlpha2 0.500 | Background 1.000,1.000 | Import"},
 {"t": 5.385, "c": -980, "l": "040311_GaSb-FeGa_300K - File: 040311_GaSb-FeGa_300K.raw - Type: 2Th/Th locked - Start: 5.000 ° - End: 79.997 ° - Step: 0.040 ° - Step time: 3.0 s - Temp.: 78 °C - Time Started: 7 s - 2-Theta: 5.000 ° -"},
 {"t": 4.85, "c": -1121, "l": "Operations: Y Scale Add 1000 | Strip kAlpha2 0.500 | Background 1.000,1.000 | Import"},
 {"t": 5.385, "c": -1263, "l": "040311_GaSb-FeGa_420K - File: 040311_GaSb-FeGa_420K.raw - Type: 2Th/Th locked - Start: 5.000 ° - End: 79.997 ° - Step: 0.040 ° - Step time: 3.0 s - Temp.: 147 °C - Time Started: 8 s - 2-Theta: 5.000 ° -"},
 {"t": 4.85, "c": -1404, "l": "Operations: Y Scale Add 1500 | Strip kAlpha2 0.500 | Background 1.000,1.000 | Import"},
 {"t": 5.385, "c": -1545, "l": "040311_GaSb-FeGa_stay - File: 040311_GaSb-FeGa_stay.raw - Type: 2Th/Th locked - Start: 5.000 ° - End: 79.997 ° - Step: 0.040 ° - Step time: 3.0 s - Temp.: 7 °C - Time Started: 12 s - 2-Theta: 5.000 ° -"},
 {"t": 4.85, "c": -1677, "l": "Operations: Y Scale Add 500 | Strip kAlpha2 0.500 | Background 1.000,1.000 | Import"}]},
 "mark": {"type": "text", "align": "left", "baseline": "middle", "fontSize": 5.4, "color": "#7a7a7a"},
 "encoding": {"text": {"field": "l"}}},
{"data": {"values": [{"t": 4.69, "c": -667, "k": "230K"}, {"t": 4.69, "c": -980, "k": "300K"}, {"t": 4.69, "c": -1263, "k": "420K"}, {"t": 4.69, "c": -1545, "k": "stay"}]},
 "mark": {"type": "square", "size": 28, "opacity": 1, "filled": true},
 "encoding": {"fill": {"field": "k", "type": "nominal", "scale": {"domain": ["230K", "300K", "420K", "stay"], "range": ["#8d9bc4", "#c48a7a", "#8d9bc4", "#9fd49f"]}, "legend": null}}}
]
},
{
"width": 630, "height": 419,
"encoding": {
"x": {"field": "t", "type": "quantitative", "scale": {"domain": [20, 70], "range": [84, 531], "nice": false, "zero": false},
 "axis": {"orient": "bottom", "offset": -80.3, "grid": false, "values": [20,25,30,35,40,45,50,55,60,65,70],
 "labelExpr": "datum.value % 10 == 0 ? datum.label : ''",
 "tickSize": {"condition": {"test": "datum.value % 10 == 0", "value": 6}, "value": 3.5},
 "labelFont": "Liberation Sans", "labelFontSize": 16, "labelColor": "#1a1a1a", "labelPadding": 3, "labelFlush": false, "labelOverlap": false,
 "domainColor": "#333333", "tickColor": "#333333", "domainWidth": 1, "tickWidth": 1,
 "title": "2 θ", "titleFont": "Liberation Serif", "titleFontSize": 21, "titleFontWeight": "normal", "titleColor": "#222222", "titlePadding": 9}},
"y": {"field": "c", "type": "quantitative", "scale": {"domain": [0, 150], "range": [338.7, 46.3], "nice": false, "zero": false},
 "axis": {"orient": "left", "offset": -84, "grid": false, "values": [0,10,20,30,40,50,60,70,80,90,100,110,120,130,140,150],
 "labelExpr": "datum.value % 20 == 0 ? datum.label : ''",
 "tickSize": {"condition": {"test": "datum.value % 20 == 0", "value": 6}, "value": 3.5},
 "labelFont": "Liberation Sans", "labelFontSize": 16, "labelColor": "#1a1a1a", "labelPadding": 4, "labelFlush": false, "labelOverlap": false,
 "domainColor": "#333333", "tickColor": "#333333", "domainWidth": 1, "tickWidth": 1,
 "title": "Intensity, count", "titleFont": "Liberation Serif", "titleFontSize": 21, "titleFontWeight": "normal", "titleColor": "#222222",
 "titleX": -47, "titleY": 205.5, "titleAngle": 270, "titleAlign": "center", "titleBaseline": "middle"}}
},
"layer": [
{"data": {"name": "bk"}, "mark": {"type": "line", "strokeWidth": 0.8, "invalid": "break-paths-show-domains"},
 "encoding": {"color": {"datum": "GaSb-CoGa1.3", "type": "nominal",
  "scale": {"domain": ["GaSb-CoGa1.3", "GaSb"], "range": ["#666666", "#e8101a"]},
  "legend": {"orient": "none", "legendX": 369, "legendY": 45, "title": null, "symbolType": "stroke", "symbolSize": 1444, "symbolStrokeWidth": 1, "symbolDash": [13, 4, 2, 4],
   "labelFont": "Liberation Sans", "labelFontSize": 16, "labelColor": "#222222", "labelOffset": 6, "padding": 4, "rowPadding": 2, "clipHeight": 15,
   "strokeColor": "#444444", "fillColor": "#ffffff"}}}},
{"data": {"name": "bk"}, "transform": [{"filter": "isValid(datum.c) && datum.c < 150"}], "mark": {"type": "circle", "size": 7, "color": "#111111", "opacity": 1}},
{"data": {"name": "rd"}, "mark": {"type": "line", "strokeWidth": 1, "invalid": "break-paths-show-domains"},
 "encoding": {"color": {"datum": "GaSb", "type": "nominal"}}},
{"data": {"name": "rd"}, "mark": {"type": "circle", "size": 7, "color": "#e8101a", "opacity": 1}},
{"data": {"values": [{"t": 27.05, "c": 114, "l": "111"}, {"t": 43.7, "c": 120.2, "l": "220"}, {"t": 51.35, "c": 118.7, "l": "311"}, {"t": 28.96, "c": 46.7, "l": "200"}, {"t": 60.5, "c": 52.3, "l": "400"}]},
 "mark": {"type": "text", "angle": 270, "align": "center", "baseline": "middle", "fontSize": 15, "color": "#1a1a1a"},
 "encoding": {"text": {"field": "l"}}},
{"data": {"values": [{"t": 31.39, "c": 40.6, "l": "*"}, {"t": 37.06, "c": 23.8, "l": "*"}, {"t": 44.83, "c": 48.3, "l": "*"}]},
 "mark": {"type": "text", "align": "center", "baseline": "middle", "fontSize": 17, "color": "#1a1a1a"},
 "encoding": {"text": {"field": "l"}}},
{"data": {"values": [{"t": 12.16, "c": 158.8, "l": "b)"}]},
 "mark": {"type": "text", "align": "left", "baseline": "alphabetic", "font": "Liberation Serif", "fontSize": 26, "color": "#000000"},
 "encoding": {"text": {"field": "l"}}}
]
}
],
"spacing": 0,
"bounds": "flush",
"resolve": {"scale": {"x": "independent", "y": "independent", "color": "independent", "fill": "independent"}, "legend": {"color": "independent"}}
},
{
"width": 1182, "height": 36,
"encoding": {
"x": {"field": "t", "type": "quantitative", "scale": {"domain": [8, 1190], "nice": false, "zero": false}, "axis": null},
"y": {"field": "c", "type": "quantitative", "scale": {"domain": [0, 36], "nice": false, "zero": false}, "axis": null}
},
"layer": [
{"data": {"values": [{"t": 225.8, "c": 10, "l": "Fig. 2."}]},
 "mark": {"type": "text", "align": "left", "baseline": "alphabetic", "font": "Liberation Serif", "fontSize": 26, "fontWeight": "bold", "color": "#000000"},
 "encoding": {"text": {"field": "l"}}},
{"data": {"values": [{"t": 300.9, "c": 10, "l": "Diffraction patterns for (a) GaSb-FeGa"}, {"t": 734.5, "c": 10, "l": "and (b) GaSb-CoGa"}, {"t": 963.8, "c": 10, "l": "."}]},
 "mark": {"type": "text", "align": "left", "baseline": "alphabetic", "font": "Liberation Serif", "fontSize": 26, "color": "#000000"},
 "encoding": {"text": {"field": "l"}}},
{"data": {"values": [{"t": 706.7, "c": 6, "l": "1.3"}, {"t": 942.5, "c": 6, "l": "1.3"}]},
 "mark": {"type": "text", "align": "left", "baseline": "alphabetic", "font": "Liberation Serif", "fontSize": 17, "color": "#000000"},
 "encoding": {"text": {"field": "l"}}}
]
}
]
}
